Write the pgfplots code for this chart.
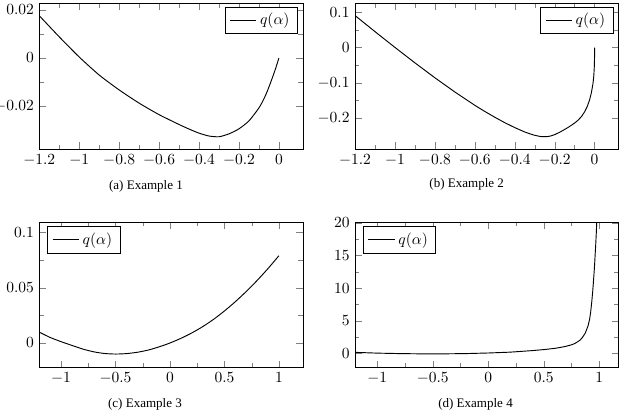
\documentclass[border=0pt]{standalone}
\usepackage{fontspec}
\newfontfamily\capfont{Liberation Serif}
\usepackage{pgfplots}
\pgfplotsset{compat=1.18}
\pgfplotsset{myax/.style={
  scale only axis, width=170pt, height=93.7pt, anchor=south west,
  minor x tick num=1, minor y tick num=1, scaled ticks=false,
  yticklabel style={/pgf/number format/fixed,/pgf/number format/precision=3},
  xticklabel style={/pgf/number format/fixed},
  legend cell align=left,
}}
\begin{document}
\begin{tikzpicture}
\path[use as bounding box] (0pt,0pt) rectangle (402.48pt,265.74pt);
% (a)
\begin{axis}[myax, at={(25.35pt,169.64pt)}, xmin=-1.2, xmax=0.12, ymin=-0.0379, ymax=0.0226,
  xtick={-1.2,-1,-0.8,-0.6,-0.4,-0.2,0}, ytick={-0.02,0,0.02}]
\addplot[black, semithick, mark=none, smooth, tension=0.4] coordinates {(-1.2,0.0176) (-1.1,0.0088) (-1.0,0.0004) (-0.9,-0.0071) (-0.8,-0.0133) (-0.7,-0.0188) (-0.6,-0.0236) (-0.5,-0.0277) (-0.45,-0.0296) (-0.4,-0.0313) (-0.35,-0.0325) (-0.3,-0.0328) (-0.25,-0.0316) (-0.2,-0.0295) (-0.15,-0.0262) (-0.1,-0.0208) (-0.075,-0.0170) (-0.06,-0.0142) (-0.045,-0.0110) (-0.03,-0.0076) (-0.015,-0.0040) (0,0)};
\addlegendentry{$q(\alpha)$}
\end{axis}
% (b)
\begin{axis}[myax, at={(228.98pt,169.64pt)}, xmin=-1.2, xmax=0.12, ymin=-0.289, ymax=0.125,
  xtick={-1.2,-1,-0.8,-0.6,-0.4,-0.2,0}, ytick={-0.2,-0.1,0,0.1}]
\addplot[black, semithick, mark=none] coordinates {(-1.2,0.0914) (-1.1,0.0455) (-1.0,0.0005) (-0.9,-0.0435) (-0.8,-0.0860) (-0.7,-0.1265) (-0.6,-0.1645) (-0.55,-0.1820) (-0.5,-0.1985) (-0.45,-0.2140) (-0.4,-0.2280) (-0.35,-0.2405) (-0.32,-0.2465) (-0.3,-0.2500) (-0.27,-0.2535) (-0.24,-0.2540) (-0.22,-0.2520) (-0.2,-0.2482) (-0.17,-0.2397) (-0.133,-0.2277) (-0.1,-0.2150) (-0.083,-0.2070) (-0.065,-0.1960) (-0.05,-0.1830) (-0.037,-0.1680) (-0.025,-0.1490) (-0.016,-0.1280) (-0.008,-0.1020) (-0.004,-0.0800) (-0.0015,-0.0540) (-0.0004,-0.0300) (0,0)};
\addlegendentry{$q(\alpha)$}
\end{axis}
% (c)
\begin{axis}[myax, at={(25.35pt,28.83pt)}, xmin=-1.2, xmax=1.22, ymin=-0.022, ymax=0.1095,
  xtick={-1,-0.5,0,0.5,1}, ytick={0,0.05,0.1}, legend pos=north west]
\addplot[black, semithick, mark=none, smooth, tension=0.4] coordinates {(-1.2,0.0098) (-1.1,0.0050) (-1.0,0.0012) (-0.9,-0.0022) (-0.8,-0.0055) (-0.7,-0.0080) (-0.6,-0.0095) (-0.5,-0.0100) (-0.4,-0.0096) (-0.3,-0.0084) (-0.2,-0.0064) (-0.1,-0.0035) (0,0.0000) (0.1,0.0042) (0.2,0.0091) (0.3,0.0148) (0.4,0.0214) (0.5,0.0290) (0.6,0.0374) (0.7,0.0466) (0.8,0.0566) (0.9,0.0674) (1.0,0.0790)};
\addlegendentry{$q(\alpha)$}
\end{axis}
% (d)
\begin{axis}[myax, at={(228.98pt,28.83pt)}, xmin=-1.2, xmax=1.175, ymin=-2.14, ymax=20.1,
  xtick={-1,-0.5,0,0.5,1}, ytick={0,5,10,15,20}, legend pos=north west]
\addplot[black, semithick, mark=none] coordinates {(-1.2,0.15) (-1.0,0.03) (-0.8,-0.04) (-0.6,-0.08) (-0.4,-0.08) (-0.2,-0.04) (0,0.05) (0.2,0.18) (0.3,0.3) (0.4,0.42) (0.5,0.57) (0.6,0.76) (0.65,0.9) (0.7,1.07) (0.75,1.3) (0.78,1.5) (0.8,1.7) (0.83,2.05) (0.85,2.45) (0.875,3.1) (0.9,4.2) (0.915,5.3) (0.924,6.4) (0.933,7.8) (0.942,9.5) (0.95,11.3) (0.957,13.0) (0.963,14.8) (0.969,16.6) (0.974,18.3) (0.978,20) (0.982,22)};
\addlegendentry{$q(\alpha)$}
\end{axis}
\node[inner sep=0pt, font=\capfont\fontsize{8.4}{10}\selectfont] at (94.17pt,145.58pt) {(a) Example 1};
\node[inner sep=0pt, font=\capfont\fontsize{8.4}{10}\selectfont] at (301.02pt,146.61pt) {(b) Example 2};
\node[inner sep=0pt, font=\capfont\fontsize{8.4}{10}\selectfont] at (93.53pt,5.16pt) {(c) Example 3};
\node[inner sep=0pt, font=\capfont\fontsize{8.4}{10}\selectfont] at (306.70pt,5.16pt) {(d) Example 4};
\end{tikzpicture}
\end{document}
